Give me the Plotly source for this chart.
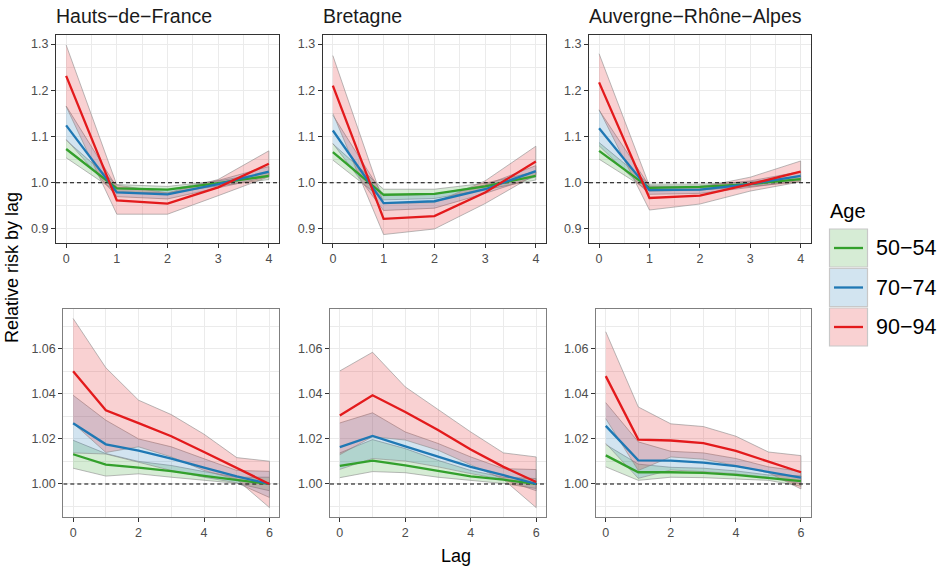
import plotly.graph_objects as go

# ---------------- data ----------------
regions = ["Hauts\u2212de\u2212France", "Bretagne", "Auvergne\u2212Rh\u00f4ne\u2212Alpes"]
ages = ["50\u221254", "70\u221274", "90\u221294"]
colors = ["#33a02c", "#1f78b4", "#e31a1c"]
fills = ["rgba(51,160,44,0.2)", "rgba(31,120,180,0.2)", "rgba(227,26,28,0.2)"]

lags_top = [0, 1, 2, 3, 4]
lags_bottom = [0, 1, 2, 3, 4, 5, 6]

# Top row (rows: 50-54, 70-74, 90-94)
hdf_top_fit = [[1.073, 0.988, 0.985, 0.999, 1.015],
               [1.124, 0.979, 0.975, 0.997, 1.024],
               [1.231, 0.962, 0.955, 0.990, 1.041]]
hdf_top_lo = [[1.054, 0.980, 0.978, 0.993, 1.007],
              [1.094, 0.970, 0.965, 0.989, 1.013],
              [1.165, 0.932, 0.932, 0.972, 1.013]]
hdf_top_hi = [[1.092, 0.996, 0.992, 1.004, 1.022],
              [1.166, 0.990, 0.985, 1.005, 1.035],
              [1.298, 0.995, 0.978, 1.007, 1.069]]

bre_top_fit = [[1.066, 0.974, 0.976, 0.992, 1.015],
               [1.113, 0.956, 0.960, 0.986, 1.025],
               [1.210, 0.922, 0.928, 0.979, 1.046]]
bre_top_lo = [[1.049, 0.963, 0.966, 0.985, 1.006],
              [1.085, 0.940, 0.945, 0.977, 1.013],
              [1.150, 0.888, 0.900, 0.955, 1.018]]
bre_top_hi = [[1.084, 0.986, 0.986, 0.999, 1.024],
              [1.146, 0.972, 0.975, 0.995, 1.037],
              [1.275, 0.956, 0.957, 1.004, 1.079]]

ara_top_fit = [[1.069, 0.989, 0.991, 0.997, 1.008],
               [1.118, 0.984, 0.985, 0.997, 1.015],
               [1.217, 0.967, 0.972, 0.997, 1.024]]
ara_top_lo = [[1.051, 0.982, 0.984, 0.992, 1.002],
              [1.080, 0.975, 0.977, 0.990, 1.005],
              [1.158, 0.941, 0.954, 0.982, 1.002]]
ara_top_hi = [[1.087, 0.997, 0.997, 1.002, 1.014],
              [1.157, 0.993, 0.993, 1.004, 1.024],
              [1.279, 0.993, 0.990, 1.012, 1.047]]

# Bottom row
hdf_bot_fit = [[1.0132, 1.0086, 1.0073, 1.0057, 1.0036, 1.0017, 1.0000],
               [1.0270, 1.0176, 1.0148, 1.0113, 1.0073, 1.0034, 1.0000],
               [1.0501, 1.0327, 1.0270, 1.0212, 1.0142, 1.0072, 1.0000]]
hdf_bot_lo = [[1.0070, 1.0035, 1.0045, 1.0030, 1.0015, 1.0003, 0.9970],
              [1.0138, 1.0133, 1.0095, 1.0060, 1.0030, 1.0005, 0.9940],
              [1.0270, 1.0140, 1.0165, 1.0120, 1.0060, 1.0020, 0.9895]]
hdf_bot_hi = [[1.0194, 1.0135, 1.0100, 1.0082, 1.0055, 1.0030, 1.0030],
              [1.0394, 1.0283, 1.0200, 1.0165, 1.0112, 1.0060, 1.0056],
              [1.0735, 1.0516, 1.0372, 1.0308, 1.0221, 1.0117, 1.0101]]

bre_bot_fit = [[1.0080, 1.0104, 1.0083, 1.0058, 1.0034, 1.0019, 1.0000],
               [1.0164, 1.0213, 1.0167, 1.0120, 1.0076, 1.0039, 1.0000],
               [1.0304, 1.0394, 1.0320, 1.0240, 1.0153, 1.0076, 1.0009]]
bre_bot_lo = [[1.0028, 1.0055, 1.0050, 1.0030, 1.0016, 1.0002, 0.9980],
              [1.0065, 1.0113, 1.0102, 1.0076, 1.0046, 1.0020, 0.9970],
              [1.0130, 1.0210, 1.0195, 1.0150, 1.0085, 1.0020, 0.9895]]
bre_bot_hi = [[1.0138, 1.0197, 1.0157, 1.0105, 1.0060, 1.0030, 1.0024],
              [1.0271, 1.0316, 1.0231, 1.0180, 1.0120, 1.0068, 1.0064],
              [1.0502, 1.0585, 1.0431, 1.0330, 1.0231, 1.0138, 1.0120]]

ara_bot_fit = [[1.0127, 1.0052, 1.0052, 1.0049, 1.0040, 1.0027, 1.0013],
               [1.0258, 1.0105, 1.0104, 1.0095, 1.0079, 1.0053, 1.0028],
               [1.0479, 1.0197, 1.0193, 1.0181, 1.0147, 1.0098, 1.0052]]
ara_bot_lo = [[1.0076, 1.0016, 1.0030, 1.0028, 1.0022, 1.0016, 0.9990],
              [1.0180, 1.0025, 1.0062, 1.0055, 1.0045, 1.0030, 1.0000],
              [1.0290, 1.0060, 1.0120, 1.0110, 1.0082, 1.0050, 0.9978]]
ara_bot_hi = [[1.0175, 1.0088, 1.0074, 1.0070, 1.0058, 1.0040, 1.0036],
              [1.0361, 1.0187, 1.0145, 1.0138, 1.0113, 1.0076, 1.0056],
              [1.0676, 1.0342, 1.0267, 1.0255, 1.0212, 1.0142, 1.0126]]

top_yticks = [0.9, 1.0, 1.1, 1.2, 1.3]
top_yticktext = ["0.9", "1.0", "1.1", "1.2", "1.3"]
bot_yticks = [1.00, 1.02, 1.04, 1.06]
bot_yticktext = ["1.00", "1.02", "1.04", "1.06"]
top_xticks = [0, 1, 2, 3, 4]
bot_xticks = [0, 2, 4, 6]

# ---------------- layout geometry ----------------
W, H = 947, 568
def px(x):
    return x / W
def py(y):
    return 1 - y / H

top_x_dom = [(56, 279), (322.7, 546), (589, 810.7)]
bot_x_dom = [(63.3, 279.3), (330, 546), (596, 810.7)]
top_y_dom = (35, 243)
bot_y_dom = (309, 517.3)
top_xrange = [-0.2, 4.2]
bot_xrange = [-0.3, 6.3]
top_yrange = [0.8697, 1.3195]
bot_yrange = [0.9852, 1.0777]

panels = [
    ("top", 0, lags_top, hdf_top_fit, hdf_top_lo, hdf_top_hi),
    ("top", 1, lags_top, bre_top_fit, bre_top_lo, bre_top_hi),
    ("top", 2, lags_top, ara_top_fit, ara_top_lo, ara_top_hi),
    ("bot", 0, lags_bottom, hdf_bot_fit, hdf_bot_lo, hdf_bot_hi),
    ("bot", 1, lags_bottom, bre_bot_fit, bre_bot_lo, bre_bot_hi),
    ("bot", 2, lags_bottom, ara_bot_fit, ara_bot_lo, ara_bot_hi),
]

fig = go.Figure()
layout = {}
font_family = "Liberation Sans, Arial, Helvetica, sans-serif"

for i, (row, col, lags, fit, lo, hi) in enumerate(panels):
    n = i + 1
    xa = "x" if n == 1 else f"x{n}"
    ya = "y" if n == 1 else f"y{n}"
    xkey = "xaxis" if n == 1 else f"xaxis{n}"
    ykey = "yaxis" if n == 1 else f"yaxis{n}"
    top = row == "top"
    xd = top_x_dom[col] if top else bot_x_dom[col]
    yd = top_y_dom if top else bot_y_dom
    xr = top_xrange if top else bot_xrange
    yr = top_yrange if top else bot_yrange
    border = "#333333" if top else "#7f7f7f"

    for k in range(3):
        fig.add_trace(go.Scatter(
            x=list(lags) + list(lags)[::-1],
            y=list(hi[k]) + list(lo[k])[::-1],
            fill="toself", fillcolor=fills[k],
            line=dict(color="rgba(140,140,140,0.6)", width=1),
            mode="lines", hoverinfo="skip", showlegend=False,
            xaxis=xa, yaxis=ya))
    fig.add_trace(go.Scatter(
        x=xr, y=[1, 1], mode="lines",
        line=dict(color="black", width=1.1, dash="4px,3px"),
        hoverinfo="skip", showlegend=False, xaxis=xa, yaxis=ya))
    for k in range(3):
        fig.add_trace(go.Scatter(
            x=lags, y=fit[k], mode="lines",
            line=dict(color=colors[k], width=2.3),
            name=ages[k], showlegend=False, xaxis=xa, yaxis=ya))

    xminor = [0.5, 1.5, 2.5, 3.5] if top else [1, 3, 5]
    yminor = [0.95, 1.05, 1.15, 1.25] if top else [0.99, 1.01, 1.03, 1.05, 1.07]
    layout[xkey] = dict(
        domain=[px(xd[0]), px(xd[1])], range=xr, anchor=ya,
        tickvals=top_xticks if top else bot_xticks,
        showgrid=True, gridcolor="#ebebeb", gridwidth=1.1,
        minor=dict(tickvals=xminor, showgrid=True, gridcolor="#ebebeb", gridwidth=0.6, ticks=""),
        zeroline=False, showline=True, linecolor=border, linewidth=1.1, mirror=True,
        ticks="outside", ticklen=4, tickwidth=1.1, tickcolor="#333333",
        tickfont=dict(size=12.5, color="#4d4d4d", family=font_family),
    )
    layout[ykey] = dict(
        domain=[py(yd[1]), py(yd[0])], range=yr, anchor=xa,
        tickvals=top_yticks if top else bot_yticks,
        ticktext=top_yticktext if top else bot_yticktext,
        showgrid=True, gridcolor="#ebebeb", gridwidth=1.1,
        minor=dict(tickvals=yminor, showgrid=True, gridcolor="#ebebeb", gridwidth=0.6, ticks=""),
        zeroline=False, showline=True, linecolor=border, linewidth=1.1, mirror=True,
        ticks="outside", ticklen=4, tickwidth=1.1, tickcolor="#333333",
        tickfont=dict(size=12.5, color="#4d4d4d", family=font_family),
    )

annotations = []
for col, name in enumerate(regions):
    annotations.append(dict(
        text=name, x=px(top_x_dom[col][0] - 2), y=py(16), xref="paper", yref="paper",
        xanchor="left", yanchor="middle", showarrow=False,
        font=dict(size=19.5, color="#1a1a1a", family=font_family)))
annotations.append(dict(text="Relative risk by lag", x=px(12), y=py(268), xref="paper", yref="paper",
                        textangle=-90, showarrow=False, xanchor="center", yanchor="middle",
                        font=dict(size=18, color="black", family=font_family)))
annotations.append(dict(text="Lag", x=px(456), y=py(556), xref="paper", yref="paper",
                        showarrow=False, xanchor="center", yanchor="middle",
                        font=dict(size=18, color="black", family=font_family)))

shapes = []
annotations.append(dict(text="Age", x=px(828), y=py(211), xref="paper", yref="paper",
                        showarrow=False, xanchor="left", yanchor="middle",
                        font=dict(size=20, color="black", family=font_family)))
key_tops = [229, 268.5, 308]
for k in range(3):
    t = key_tops[k]
    shapes.append(dict(type="rect", xref="paper", yref="paper",
                       x0=px(829.5), x1=px(867.5), y0=py(t + 38), y1=py(t),
                       fillcolor=fills[k], line=dict(color="#c8c8c8", width=1.2)))
    shapes.append(dict(type="line", xref="paper", yref="paper",
                       x0=px(834), x1=px(863), y0=py(t + 19), y1=py(t + 19),
                       line=dict(color=colors[k], width=2.3)))
    annotations.append(dict(text=ages[k], x=px(874), y=py(t + 19), xref="paper", yref="paper",
                            showarrow=False, xanchor="left", yanchor="middle",
                            font=dict(size=21.5, color="black", family=font_family)))

fig.update_layout(
    width=W, height=H, autosize=False,
    margin=dict(l=0, r=0, t=0, b=0),
    paper_bgcolor="white", plot_bgcolor="white",
    showlegend=False,
    font=dict(family=font_family),
    annotations=annotations, shapes=shapes,
    **layout,
)

fig.write_html("out.html",
               config={"displayModeBar": False},
               post_script="document.body.style.margin='0px';document.body.style.padding='0px';document.body.style.overflow='hidden';")
